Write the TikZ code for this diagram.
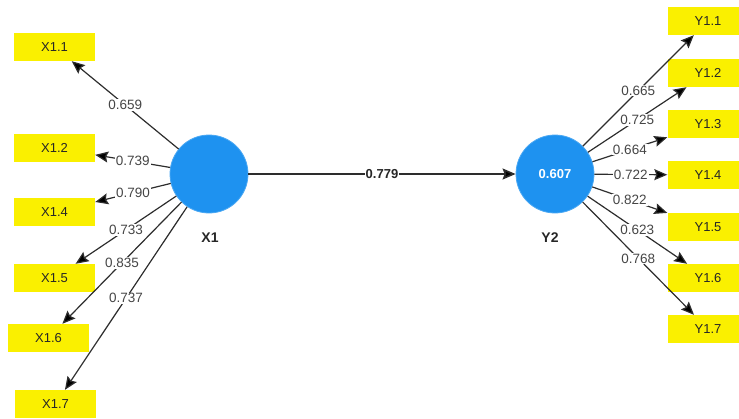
\documentclass[tikz,border=0pt]{standalone}
\usepackage{fontspec}
\setmainfont{Liberation Sans}
\usetikzlibrary{arrows.meta}
\definecolor{lvblue}{RGB}{30,146,240}
\definecolor{indyellow}{RGB}{250,240,0}
\definecolor{linegray}{RGB}{45,45,45}
\definecolor{labgray}{RGB}{70,70,70}
\begin{document}
\begin{tikzpicture}[x=1pt,y=-1pt,
  latent/.style={circle,fill=lvblue,draw=lvblue!80!white,line width=0.8pt,minimum size=78pt,inner sep=0pt,
    font=\fontsize{13}{15}\selectfont\bfseries,text=white},
  indic/.style={rectangle,fill=indyellow,minimum width=81pt,minimum height=28pt,inner sep=0pt,
    font=\fontsize{13}{15}\selectfont,text=black!85},
  lvname/.style={font=\fontsize{14}{16}\selectfont\bfseries,text=black!85},
  load/.style={draw=linegray,line width=1.2pt,-{Stealth[length=13pt,width=11pt,inset=2pt,fill=black]}},
  wt/.style={midway,fill=white,inner sep=1pt,font=\fontsize{13.5}{15}\selectfont,text=labgray}]
\useasboundingbox (0,0) rectangle (739,418);
% latent variables
\node[latent] (X1) at (209,174) {};
\node[latent] (Y2) at (555,174) {0.607};
\node[lvname] (X1n) at (210,238) {X1};
\node[lvname] (Y2n) at (550,238) {Y2};
% X indicators
\node[indic] (X11) at (54.5,47) {X1.1};
\node[indic] (X12) at (54.5,148) {X1.2};
\node[indic] (X14) at (54.5,212) {X1.4};
\node[indic] (X15) at (54.5,278) {X1.5};
\node[indic] (X16) at (48.5,338) {X1.6};
\node[indic] (X17) at (55.5,404) {X1.7};
% Y indicators
\node[indic] (Y11) at (708,21) {Y1.1};
\node[indic] (Y12) at (708,73) {Y1.2};
\node[indic] (Y13) at (708,124) {Y1.3};
\node[indic] (Y14) at (708,175) {Y1.4};
\node[indic] (Y15) at (708,227) {Y1.5};
\node[indic] (Y16) at (708,278) {Y1.6};
\node[indic] (Y17) at (708,329) {Y1.7};
% outer loadings X
\draw[load] (X1) -- (X11) node[wt] {0.659};
\draw[load] (X1) -- (X12) node[wt] {0.739};
\draw[load] (X1) -- (X14) node[wt] {0.790};
\draw[load] (X1) -- (X15) node[wt] {0.733};
\draw[load] (X1) -- (X16) node[wt] {0.835};
\draw[load] (X1) -- (X17) node[wt] {0.737};
% outer loadings Y
\draw[load] (Y2) -- (Y11) node[wt] {0.665};
\draw[load] (Y2) -- (Y12) node[wt] {0.725};
\draw[load] (Y2) -- (Y13) node[wt] {0.664};
\draw[load] (Y2) -- (Y14) node[wt] {0.722};
\draw[load] (Y2) -- (Y15) node[wt] {0.822};
\draw[load] (Y2) -- (Y16) node[wt] {0.623};
\draw[load] (Y2) -- (Y17) node[wt] {0.768};
% path coefficient
\draw[load,line width=1.6pt] (X1) -- (Y2) node[wt,text=black!85,font=\fontsize{13}{15}\selectfont\bfseries] {0.779};
\end{tikzpicture}
\end{document}
